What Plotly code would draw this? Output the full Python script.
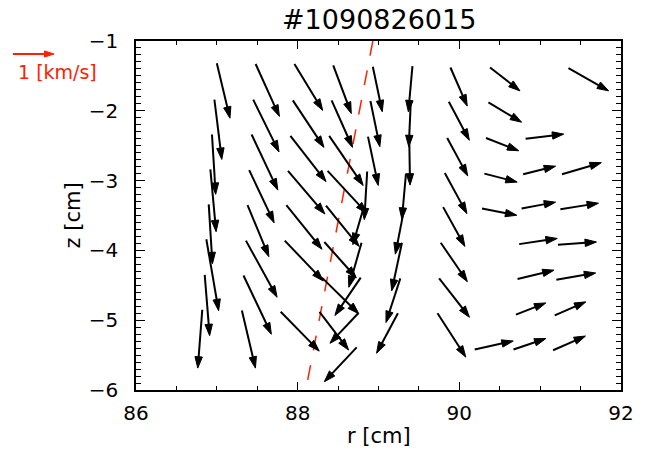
import plotly.graph_objects as go

# Arrow tail positions (cm) and velocity components (km/s), listed column by column
r_pos = [
    87.00, 86.97, 86.94, 86.92, 86.90, 86.87, 86.85, 86.82,
    87.48, 87.45, 87.43, 87.40, 87.38, 87.36, 87.33, 87.31,
    87.96, 87.94, 87.91, 87.88, 87.86, 87.84, 87.79,
    88.44, 88.42, 88.39, 88.37, 88.35, 88.33, 88.30, 88.27,
    88.93, 88.90, 88.87, 88.86, 88.82, 88.79, 88.78, 88.75, 88.73,
    89.42, 89.40, 89.38, 89.34, 89.32, 89.29, 89.27, 89.24,
    89.89, 89.87, 89.85, 89.82, 89.80, 89.77, 89.75, 89.73,
    90.38, 90.36, 90.33, 90.31, 90.28, 90.19,
    90.82, 90.79, 90.77, 90.74, 90.72, 90.70, 90.67,
    91.35, 91.27, 91.25, 91.22, 91.20, 91.18, 91.16,
]
z_pos = [
    -1.32, -1.84, -2.34, -2.84, -3.34, -3.84, -4.35, -4.85,
    -1.33, -1.84, -2.34, -2.85, -3.35, -3.86, -4.36, -4.86,
    -1.33, -1.85, -2.36, -2.86, -3.35, -3.86, -4.88,
    -1.35, -1.85, -2.36, -2.86, -3.36, -3.88, -4.39, -4.88,
    -1.37, -1.86, -2.37, -2.87, -3.37, -3.89, -4.39, -4.90, -5.39,
    -1.36, -1.86, -2.37, -2.90, -3.39, -3.89, -4.40, -4.90,
    -1.38, -1.87, -2.39, -2.89, -3.38, -3.89, -4.40, -4.90,
    -1.38, -1.88, -2.39, -2.90, -3.40, -5.42,
    -2.40, -2.91, -3.40, -3.91, -4.41, -4.92, -5.42,
    -1.39, -2.91, -3.41, -3.92, -4.42, -4.93, -5.43,
]
v_r = [
    0.32, 0.18, 0.09, 0.14, 0.09, 0.30, 0.12, -0.11,
    0.58, 0.63, 0.64, 0.61, 0.52, 0.76, 0.68, 0.33,
    0.69, 0.76, 0.87, 0.90, 0.87, 0.94, 0.94,
    0.44, 0.51, 0.83, 0.96, 0.81, 0.78, 0.90, 0.71,
    0.23, 0.23, 0.25, -0.07, -0.27, -0.31, -0.63, -0.69, -0.79,
    -0.10, -0.05, 0.02, -0.10, -0.22, -0.25, -0.35, -0.52,
    0.41, 0.50, 0.50, 0.54, 0.53, 0.65, 0.74, 0.69,
    0.73, 0.81, 0.80, 0.80, 0.85, 0.94,
    0.93, 0.79, 0.83, 0.93, 0.89, 0.73, 0.79,
    0.98, 0.96, 0.93, 0.94, 0.96, 0.76, 0.79,
]
v_z = [
    -1.55, -1.69, -1.69, -1.76, -1.68, -2.02, -1.72, -1.65,
    -1.48, -1.48, -1.57, -1.49, -1.46, -1.60, -1.66, -1.63,
    -1.31, -1.33, -1.29, -1.22, -1.25, -1.14, -1.11,
    -1.36, -1.33, -1.40, -1.20, -1.15, -1.01, -1.02, -1.08,
    -1.27, -1.29, -1.38, -1.36, -1.08, -1.26, -1.07, -0.85, -0.97,
    -1.29, -1.29, -1.37, -1.29, -1.31, -1.36, -1.25, -1.13,
    -1.09, -1.09, -1.07, -1.15, -1.11, -1.10, -1.10, -1.24,
    -0.66, -0.56, -0.36, -0.24, -0.19, 0.24,
    0.13, 0.23, 0.18, 0.16, 0.25, 0.33, 0.31,
    -0.64, 0.33, 0.17, 0.08, 0.19, 0.38, 0.40,
]

# Dashed reference line (r, z in cm), drawn from top to bottom
line_r = [88.93, 88.10]
line_z = [-1.0, -6.0]

R_RANGE = [86, 92]
Z_RANGE = [-6, -1]
VEL_SCALE = 0.507        # arrow length in cm per 1 km/s
REF_SPEED = 1.0          # reference arrow, km/s

W, H = 647, 453
PL, PR, PT, PB = 136, 621, 41, 390
RED = "#ff2000"
FONT = "DejaVu Sans"
CLEAR = "rgba(0,0,0,0)"

fig = go.Figure()

fig.add_trace(go.Scatter(
    x=line_r, y=line_z, mode="lines",
    line=dict(color=RED, width=1.5, dash="15px,15px"),
    hoverinfo="skip",
))

for r0, z0, ur, uz in zip(r_pos, z_pos, v_r, v_z):
    fig.add_trace(go.Scatter(
        x=[r0, r0 + ur * VEL_SCALE],
        y=[z0, z0 + uz * VEL_SCALE],
        mode="lines+markers",
        line=dict(color="black", width=2),
        marker=dict(symbol=["circle", "arrow"], size=[0, 12],
                    angleref="previous", color="black", opacity=1,
                    line=dict(width=1, color="black")),
        hoverinfo="skip",
    ))

# Reference arrow in page-pixel coordinates, same scale as the field arrows
px_per_cm = (PR - PL) / (R_RANGE[1] - R_RANGE[0])
ref_len = REF_SPEED * VEL_SCALE * px_per_cm
fig.add_trace(go.Scatter(
    x=[13, 13 + ref_len], y=[54, 54], xaxis="x2", yaxis="y2",
    mode="lines+markers",
    line=dict(color=RED, width=2),
    marker=dict(symbol=["circle", "arrow"], size=[0, 10],
                angleref="previous", color=RED, opacity=1,
                line=dict(width=1, color=RED)),
    hoverinfo="skip",
))

axis_common = dict(
    ticks="inside", tickwidth=1.2, tickcolor="black",
    showline=True, linewidth=1.5, linecolor="black", mirror="ticks",
    showgrid=False, zeroline=False, automargin=False,
    tickfont=dict(family=FONT, size=20, color="black"),
)

fig.update_layout(
    width=W, height=H,
    autosize=False,
    margin=dict(l=0, r=0, t=0, b=0, pad=0, autoexpand=False),
    paper_bgcolor="white", plot_bgcolor=CLEAR,
    showlegend=False,
    xaxis=dict(
        domain=[PL / W, PR / W], range=R_RANGE, tick0=86, dtick=2,
        ticklen=8, ticklabelstandoff=4,
        minor=dict(ticks="inside", dtick=0.5, ticklen=4, tickwidth=1.2,
                   tickcolor="black"),
        **axis_common,
    ),
    yaxis=dict(
        domain=[1 - PB / H, 1 - PT / H], range=Z_RANGE, tick0=-6, dtick=1,
        ticklen=9, ticklabelstandoff=12,
        minor=dict(ticks="inside", dtick=0.1, ticklen=5, tickwidth=1.2,
                   tickcolor="black"),
        **axis_common,
    ),
    xaxis2=dict(domain=[0, 1], range=[0, W], autorange=False, visible=False,
                anchor="y2", fixedrange=True, automargin=False),
    yaxis2=dict(domain=[0, 1], range=[H, 0], autorange=False, visible=False,
                anchor="x2", fixedrange=True, automargin=False),
    annotations=[
        dict(text="#1090826015", x=(PL + PR) / 2, y=19, xref="x2", yref="y2",
             showarrow=False, font=dict(family=FONT, size=27, color="black")),
        dict(text="r [cm]", x=(PL + PR) / 2, y=436, xref="x2", yref="y2",
             showarrow=False, font=dict(family=FONT, size=21, color="black")),
        dict(text="z [cm]", x=72, y=(PT + PB) / 2, xref="x2", yref="y2",
             textangle=-90, showarrow=False,
             font=dict(family=FONT, size=21, color="black")),
        dict(text="1 [km/s]", x=57, y=72, xref="x2", yref="y2",
             showarrow=False, font=dict(family=FONT, size=19, color=RED)),
    ],
)

fig.write_html("out.html")
